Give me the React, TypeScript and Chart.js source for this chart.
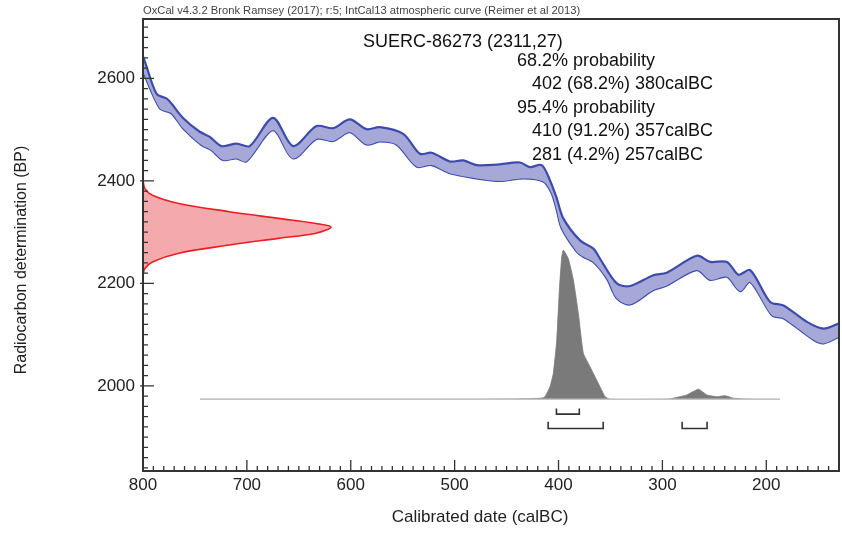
import React, { useEffect, useRef } from "react";
import { Chart, registerables } from "chart.js";

Chart.register(...registerables);

const FONT = "'Liberation Sans', Arial, Helvetica, sans-serif";

// Axes
const xMinYear = 130;
const xMaxYear = 800;
const yMinBP = 1834;
const yMaxBP = 2716;
const xTickValues = [800, 700, 600, 500, 400, 300, 200];
const yTickValues = [2000, 2200, 2400, 2600];

// IntCal13 calibration curve band (upper / lower edges), calBC vs BP
const curveUpperYears = [806, 800, 787, 777.5, 772.6, 761.5, 745.4, 735.7, 724.5, 710, 697.2, 674.8, 655.5, 633, 617, 600.9, 584.8, 572, 549.5, 533.4, 522.2, 504.6, 491.7, 478.8, 459.5, 437.1, 427.5, 416.2, 408.2, 401.7, 395.4, 379.3, 366.5, 360, 343.9, 331.1, 308.7, 295.8, 266.9, 254, 237.9, 226.8, 215.5, 196.3, 183.4, 160.9, 144.9, 126.9];
const curveUpperBP = [2663, 2643, 2570, 2561, 2551, 2523, 2496, 2486, 2468, 2473, 2468, 2523, 2468, 2507, 2503, 2520, 2501, 2505, 2492, 2453, 2455, 2438, 2440, 2431, 2432, 2436, 2427, 2431, 2401, 2366, 2327, 2284, 2268, 2248, 2200, 2195, 2216, 2221, 2254, 2242, 2242, 2217, 2226, 2164, 2157, 2125, 2112, 2125];
const curveLowerYears = [806, 801.5, 783.9, 772.6, 761.5, 743.7, 734.1, 722.9, 710, 700.4, 674.8, 655.5, 633, 617, 600.9, 584.8, 572, 555.9, 536.6, 522.2, 504.6, 478.8, 456.4, 433.9, 414.6, 406.6, 401.7, 396.9, 382.5, 376.1, 366.5, 353.6, 343.9, 331.1, 308.7, 295.8, 266.9, 254, 237.9, 225.1, 215.5, 194.6, 183.4, 154.5, 144.9, 126.9];
const curveLowerBP = [2632, 2620, 2542, 2532, 2503, 2470, 2460, 2441, 2444, 2438, 2499, 2444, 2482, 2478, 2495, 2471, 2477, 2471, 2428, 2431, 2415, 2405, 2400, 2405, 2399, 2376, 2343, 2307, 2262, 2252, 2242, 2210, 2171, 2159, 2187, 2196, 2226, 2207, 2213, 2185, 2203, 2138, 2132, 2090, 2083, 2099];

// Radiocarbon measurement distribution (BP, relative density)
const sampleBP = [2402, 2385, 2372, 2356, 2340, 2327, 2317, 2310, 2298, 2288, 2275, 2259, 2242, 2229, 2216];
const sampleDensity = [0, 0.01, 0.05, 0.19, 0.46, 0.72, 0.92, 1.0, 0.92, 0.72, 0.46, 0.19, 0.05, 0.01, 0];
const sampleSpanYears = 181;

// Calibrated posterior distribution (calBC, relative density)
const postYears = [745, 480, 430, 416, 413, 408.2, 405, 401.7, 399.2, 396.9, 395.4, 390.6, 385.7, 380.9, 376.1, 369.7, 361.7, 355.2, 350.4, 300, 292.6, 276.5, 265.3, 257.2, 247.6, 239.6, 231.6, 212.3, 187];
const postDensity = [0, 0, 0.003, 0.008, 0.017, 0.084, 0.174, 0.397, 0.732, 0.955, 1.0, 0.944, 0.8, 0.576, 0.308, 0.218, 0.107, 0.017, 0, 0, 0.003, 0.029, 0.067, 0.029, 0.017, 0.024, 0.007, 0, 0];
const postBaseBP = 1974;
const postHeightBP = 291;

// Calibrated ranges
const range68 = [[402, 380]];
const range95 = [[410, 357], [281, 257]];
const range68Level = [1945, 1956];
const range95Level = [1917, 1930];

// Texts
const headerText = "OxCal v4.3.2 Bronk Ramsey (2017); r:5; IntCal13 atmospheric curve (Reimer et al 2013)";
const sampleTitle = "SUERC-86273 (2311,27)";
const probLines = ["68.2% probability", "402 (68.2%) 380calBC", "95.4% probability", "410 (91.2%) 357calBC", "281 (4.2%) 257calBC"];
const probIndent = [0, 1, 0, 1, 1];
const xTitle = "Calibrated date (calBC)";
const yTitle = "Radiocarbon determination (BP)";

function bracket(a: number, b: number, level: number[]) {
  return [
    { x: a, y: level[1] },
    { x: a, y: level[0] },
    { x: b, y: level[0] },
    { x: b, y: level[1] },
  ];
}

const decorPlugin = {
  id: "decor",
  afterDatasetsDraw(chart: any) {
    const { ctx, chartArea: a, scales } = chart;
    const xs = scales.x;
    const ys = scales.y;
    ctx.save();
    ctx.strokeStyle = "#333";
    ctx.lineWidth = 1.3;
    ctx.beginPath();
    for (let v = xMinYear; v <= xMaxYear; v += 10) {
      const px = xs.getPixelForValue(v);
      const len = v % 100 === 0 ? 11 : 5;
      ctx.moveTo(px, a.bottom);
      ctx.lineTo(px, a.bottom - len);
    }
    for (let v = 1840; v <= yMaxBP; v += 20) {
      const py = ys.getPixelForValue(v);
      const major = v % 200 === 0;
      ctx.moveTo(major ? a.left - 3 : a.left, py);
      ctx.lineTo(a.left + (major ? 11 : 5), py);
    }
    ctx.stroke();
    ctx.lineWidth = 2;
    ctx.strokeRect(a.left, a.top, a.right - a.left, a.bottom - a.top);

    ctx.textBaseline = "middle";
    ctx.textAlign = "left";
    ctx.fillStyle = "#444";
    ctx.font = `11.2px ${FONT}`;
    ctx.fillText(headerText, a.left, a.top - 8);

    ctx.fillStyle = "#111";
    ctx.font = `18px ${FONT}`;
    ctx.fillText(sampleTitle, 363, 42);
    ctx.font = `18px ${FONT}`;
    probLines.forEach((t, i) => {
      ctx.fillText(t, probIndent[i] ? 532 : 517, 61 + i * 23.5);
    });

    ctx.fillStyle = "#222";
    ctx.textAlign = "center";
    ctx.font = `17px ${FONT}`;
    ctx.fillText(xTitle, 480, 517);
    ctx.save();
    ctx.translate(22, 260);
    ctx.rotate(-Math.PI / 2);
    ctx.font = `16px ${FONT}`;
    ctx.fillText(yTitle, 0, 0);
    ctx.restore();
    ctx.restore();
  },
};

export default function App() {
  const ref = useRef<HTMLCanvasElement | null>(null);
  useEffect(() => {
    if (!ref.current) return;
    const upper = curveUpperYears.map((x, i) => ({ x, y: curveUpperBP[i] }));
    const lower = curveLowerYears.map((x, i) => ({ x, y: curveLowerBP[i] }));
    const sample = sampleBP.map((bp, i) => ({ x: xMaxYear - sampleDensity[i] * sampleSpanYears, y: bp }));
    const post = postYears.map((x, i) => ({ x, y: postBaseBP + postDensity[i] * postHeightBP }));
    const baseline = [
      { x: postYears[0], y: postBaseBP },
      { x: postYears[postYears.length - 1], y: postBaseBP },
    ];
    const bracketSets: any[] = [];
    range68.forEach(([a, b]) => bracketSets.push(bracket(a, b, range68Level)));
    range95.forEach(([a, b]) => bracketSets.push(bracket(a, b, range95Level)));

    const datasets: any[] = [
      {
        data: upper,
        borderColor: "#3d4cab",
        borderWidth: 2.2,
        backgroundColor: "#a6a8d8",
        fill: "+1",
        tension: 0.3,
        pointRadius: 0,
      },
      {
        data: lower,
        borderColor: "#3d4cab",
        borderWidth: 2.2,
        fill: false,
        tension: 0.3,
        pointRadius: 0,
      },
      {
        data: sample,
        borderColor: "#ee1c24",
        borderWidth: 1.6,
        backgroundColor: "#f4a9ad",
        fill: "shape",
        tension: 0.35,
        pointRadius: 0,
      },
      {
        data: baseline,
        borderColor: "#c4c4c4",
        borderWidth: 1.6,
        fill: false,
        pointRadius: 0,
      },
      {
        data: post,
        borderColor: "#7a7a7a",
        borderWidth: 0.8,
        backgroundColor: "#7a7a7a",
        fill: { value: postBaseBP },
        tension: 0.15,
        pointRadius: 0,
      },
      ...bracketSets.map((d) => ({
        data: d,
        borderColor: "#333",
        borderWidth: 1.6,
        fill: false,
        pointRadius: 0,
        tension: 0,
      })),
    ];

    const chart = new Chart(ref.current, {
      type: "line",
      data: { datasets },
      options: {
        animation: false,
        responsive: false,
        parsing: false as any,
        layout: { padding: { left: 0, top: 19, right: 3, bottom: 0 } },
        plugins: { legend: { display: false }, tooltip: { enabled: false } },
        scales: {
          x: {
            type: "linear",
            reverse: true,
            min: xMinYear,
            max: xMaxYear,
            afterBuildTicks: (s: any) => {
              s.ticks = xTickValues.map((v) => ({ value: v }));
            },
            afterFit: (s: any) => {
              s.height = 67;
            },
            grid: { display: false, drawTicks: false },
            border: { display: false },
            ticks: {
              color: "#222",
              padding: 4,
              maxRotation: 0,
              autoSkip: false,
              font: { family: FONT, size: 17 },
              callback: (v: any) => String(v),
            },
          },
          y: {
            type: "linear",
            min: yMinBP,
            max: yMaxBP,
            afterBuildTicks: (s: any) => {
              s.ticks = yTickValues.map((v) => ({ value: v }));
            },
            afterFit: (s: any) => {
              s.width = 143;
            },
            grid: { display: false, drawTicks: false },
            border: { display: false },
            ticks: {
              color: "#222",
              padding: 8,
              autoSkip: false,
              font: { family: FONT, size: 17 },
              callback: (v: any) => String(v),
            },
          },
        },
      },
      plugins: [decorPlugin],
    });
    return () => chart.destroy();
  }, []);

  return (
    <div style={{ position: "absolute", left: 0, top: 0, width: 842, height: 538, background: "#fff" }}>
      <canvas ref={ref} width={842} height={538} style={{ display: "block" }} />
    </div>
  );
}
